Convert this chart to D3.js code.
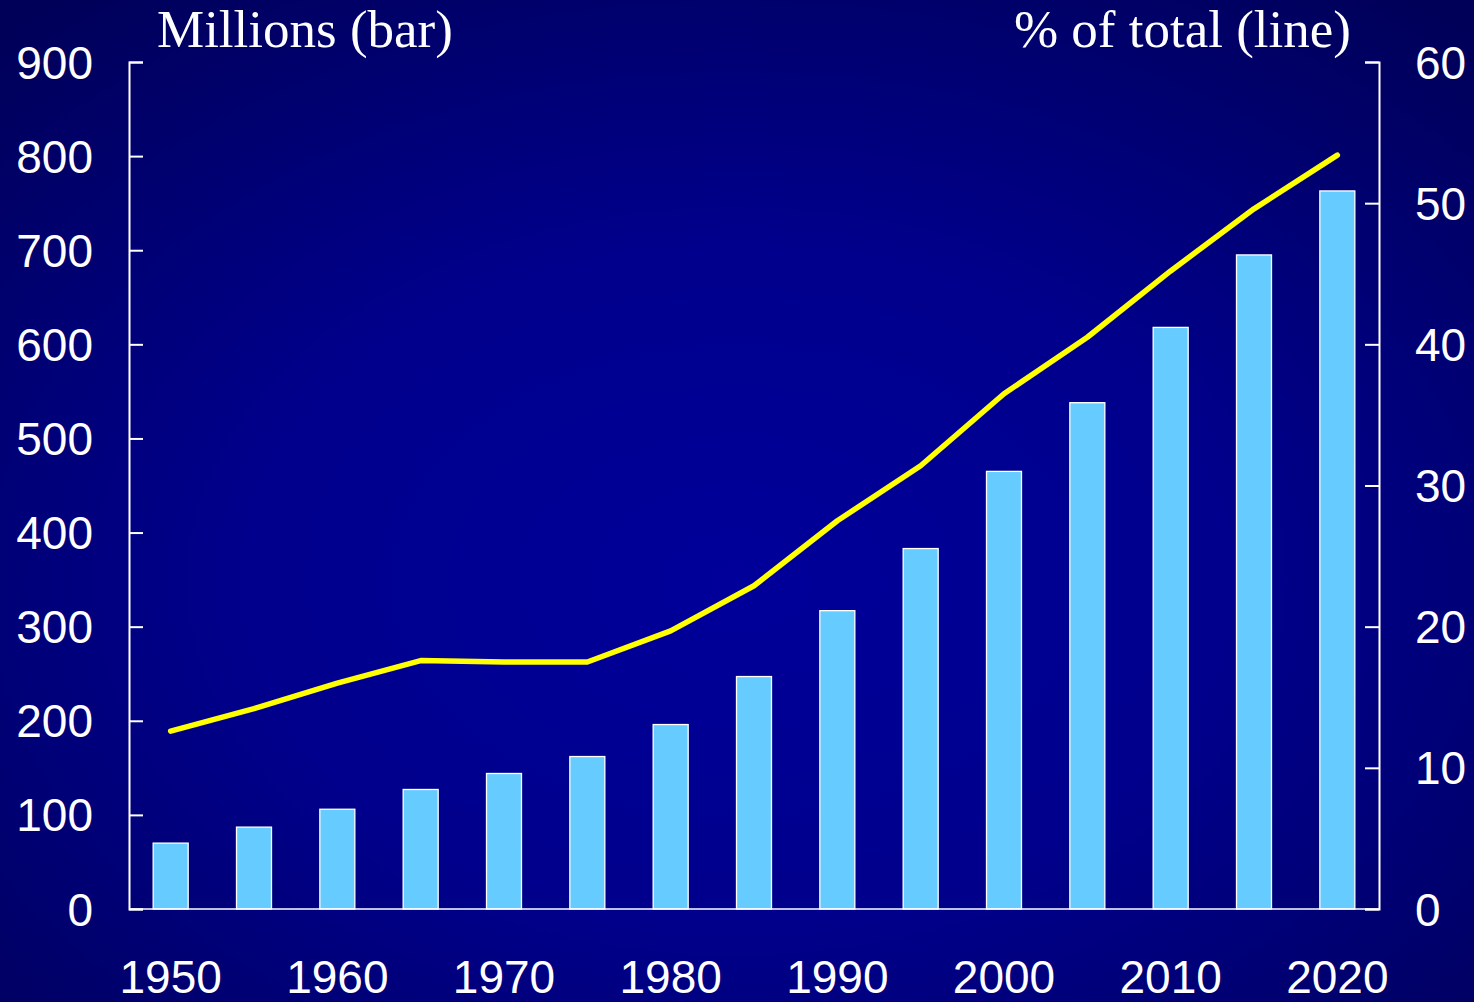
<!DOCTYPE html>
<html><head><meta charset="utf-8">
<script src="https://cdn.jsdelivr.net/npm/d3@7"></script>
<style>html,body{margin:0;padding:0;background:#000070;}svg{display:block;}</style>
</head><body>
<script>
const years = [1950,1955,1960,1965,1970,1975,1980,1985,1990,1995,2000,2005,2010,2015,2020];
const millions = [70,87,106,127,144,162,196,247,317,383,465,538,618,695,763];
const pctTotal = [12.6,14.2,16.0,17.6,17.5,17.5,19.7,22.9,27.5,31.4,36.5,40.5,45.2,49.6,53.4];
const leftTicks = [0,100,200,300,400,500,600,700,800,900];
const rightTicks = [0,10,20,30,40,50,60];
const xLabels = [1950,1960,1970,1980,1990,2000,2010,2020];

const W = 1474, H = 1002;
const L = 129, R = 1379, T = 62, B = 909;
const svg = d3.select("body").append("svg").attr("width", W).attr("height", H);
const defs = svg.append("defs");
const grad = defs.append("radialGradient").attr("id","bg").attr("cx","50%").attr("cy","58%").attr("r","75%");
grad.append("stop").attr("offset","0%").attr("stop-color","#00009a");
grad.append("stop").attr("offset","45%").attr("stop-color","#00008c");
grad.append("stop").attr("offset","100%").attr("stop-color","#000058");
svg.append("rect").attr("width",W).attr("height",H).attr("fill","url(#bg)");

const x = d3.scaleBand().domain(years).range([L,R]).paddingInner(0.58).paddingOuter(0.29);
const yL = d3.scaleLinear().domain([0,900]).range([B,T]);
const yR = d3.scaleLinear().domain([0,60]).range([B,T]);

// bars
svg.append("g").selectAll("rect").data(years).join("rect")
  .attr("x", d => x(d)).attr("width", x.bandwidth())
  .attr("y", (d,i) => yL(millions[i])).attr("height", (d,i) => B - yL(millions[i]))
  .attr("fill","#66ccff").attr("stroke","#ffffff").attr("stroke-width",1.3);

// baseline
svg.append("line").attr("x1",L).attr("x2",R).attr("y1",B).attr("y2",B).attr("stroke","#fff").attr("stroke-width",1.5);

const font = "'Liberation Sans', Arial, sans-serif";
const fs = "46px";
// left axis
const ax = d3.axisLeft(yL).tickValues(leftTicks).tickSize(-14).tickPadding(36).tickFormat(d3.format("d"));
const gL = svg.append("g").attr("transform",`translate(${L},0)`).call(ax);
gL.select(".domain").attr("stroke","#fff").attr("stroke-width",2);
gL.selectAll(".tick line").attr("stroke","#fff").attr("stroke-width",2);
gL.selectAll(".tick text").attr("fill","#fff").style("font-family",font).style("font-size",fs).attr("dy","0.35em");

const axR = d3.axisRight(yR).tickValues(rightTicks).tickSize(-14).tickPadding(36).tickFormat(d3.format("d"));
const gR = svg.append("g").attr("transform",`translate(${R},0)`).call(axR);
gR.select(".domain").attr("stroke","#fff").attr("stroke-width",2);
gR.selectAll(".tick line").attr("stroke","#fff").attr("stroke-width",2);
gR.selectAll(".tick text").attr("fill","#fff").style("font-family",font).style("font-size",fs).attr("dy","0.35em");

// x labels
const axB = d3.axisBottom(x).tickValues(xLabels).tickSize(0).tickPadding(68);
const gB = svg.append("g").attr("transform",`translate(0,${B})`).call(axB);
gB.select(".domain").remove();
gB.selectAll(".tick text").attr("fill","#fff").style("font-family",font).style("font-size",fs).attr("dy","0.35em");

// line
const line = d3.line().x((d,i) => x(years[i]) + x.bandwidth()/2).y(d => yR(d));
svg.append("path").datum(pctTotal).attr("d", line).attr("fill","none")
  .attr("stroke","#ffff00").attr("stroke-width",5.5).attr("stroke-linecap","round").attr("stroke-linejoin","round");

// titles
const serif = "'Liberation Serif', 'Times New Roman', serif";
svg.append("text").attr("x",157).attr("y",47).text("Millions (bar)")
  .attr("fill","#fff").style("font-family",serif).style("font-size","53px");
svg.append("text").attr("x",1351).attr("y",47).attr("text-anchor","end").text("% of total (line)")
  .attr("fill","#fff").style("font-family",serif).style("font-size","53px");
</script>
</body></html>
